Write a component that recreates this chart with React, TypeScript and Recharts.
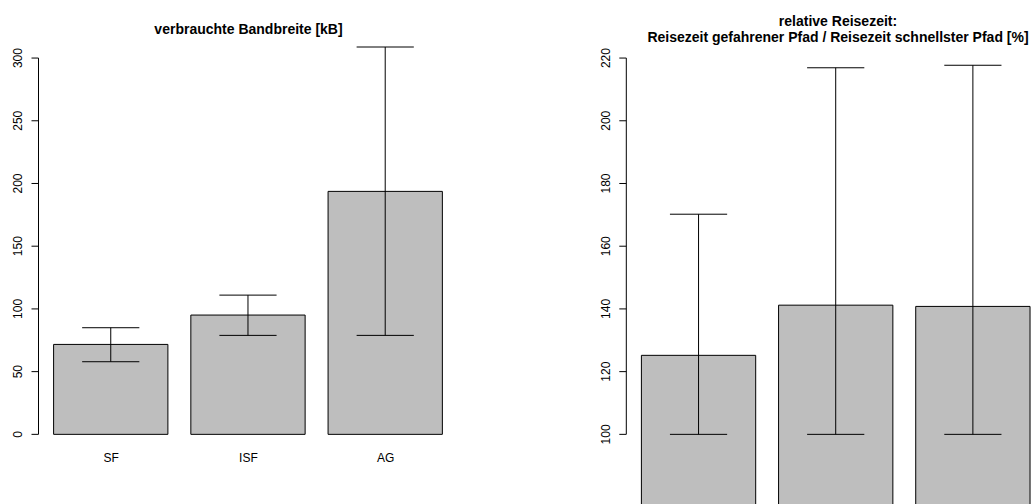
import { BarChart, Bar, XAxis, YAxis, ErrorBar, ReferenceLine } from 'recharts';

// Bandwidth used per strategy (mean with lower/upper whisker)
const strategies = ['SF', 'ISF', 'AG'];
const bandwidthMean = [71.7, 95.1, 193.7];
const bandwidthLow = [57.9, 78.9, 78.9];
const bandwidthHigh = [85.0, 111.0, 308.8];
const bandwidthTicks = [0, 50, 100, 150, 200, 250, 300];

// Relative travel time of driven path vs fastest path, in percent
const travelMean = [125.2, 141.2, 140.8];
const travelLow = [100, 100, 100];
const travelHigh = [170.2, 216.9, 217.7];
const travelTicks = [100, 120, 140, 160, 180, 200, 220];

const FONT = '"Liberation Sans", Arial, Helvetica, sans-serif';
const BAR_FILL = '#bebebe';

const toRows = (mean: number[], low: number[], high: number[]) =>
  strategies.map((name, i) => ({
    name,
    value: mean[i],
    err: [mean[i] - low[i], high[i] - mean[i]],
  }));

const bandwidthData = toRows(bandwidthMean, bandwidthLow, bandwidthHigh);
const travelData = toRows(travelMean, travelLow, travelHigh);

// rotated tick labels, reading bottom to top like base R graphics
const YTick = (props: any) => {
  const { x, y, payload } = props;
  return (
    <text
      x={x}
      y={y}
      transform={`rotate(-90, ${x}, ${y})`}
      textAnchor="middle"
      fontFamily={FONT}
      fontSize={12}
      fill="#000"
    >
      {payload.value}
    </text>
  );
};

const XTick = (props: any) => {
  const { x, y, payload } = props;
  return (
    <text x={x} y={y} textAnchor="middle" fontFamily={FONT} fontSize={12} fill="#000">
      {payload.value}
    </text>
  );
};

export default function App() {
  return (
    <div
      style={{
        position: 'absolute',
        left: 0,
        top: 0,
        width: 1032,
        height: 504,
        overflow: 'hidden',
        background: '#fff',
        fontFamily: FONT,
      }}
    >
      {/* left panel: bandwidth */}
      <div style={{ position: 'absolute', left: 0, top: 0 }}>
        <BarChart
          width={516}
          height={504}
          data={bandwidthData}
          margin={{ top: 43, right: 57.6, bottom: 24.6, left: 0 }}
          barSize={114.3}
        >
          <XAxis
            dataKey="name"
            axisLine={false}
            tickLine={false}
            tickSize={0}
            tickMargin={12.2}
            height={30}
            padding={{ left: 4.1, right: 4.1 }}
            tick={<XTick />}
            interval={0}
          />
          <XAxis xAxisId="edge" type="number" domain={[0, 1]} allowDataOverflow hide />
          <YAxis
            type="number"
            domain={[-12, 312]}
            ticks={bandwidthTicks}
            width={38.5}
            axisLine={false}
            tickLine={{ stroke: '#000' }}
            tickSize={7}
            tickMargin={9.7}
            tick={<YTick />}
            interval={0}
          />
          <ReferenceLine
            xAxisId="edge"
            segment={[
              { x: 0, y: bandwidthTicks[0] },
              { x: 0, y: bandwidthTicks[bandwidthTicks.length - 1] },
            ]}
            stroke="#000"
            strokeWidth={1}
          />
          <Bar dataKey="value" fill={BAR_FILL} stroke="#000" strokeWidth={1} isAnimationActive={false}>
            <ErrorBar dataKey="err" width={28.6} stroke="#000" strokeWidth={1} direction="y" isAnimationActive={false} />
          </Bar>
        </BarChart>
      </div>

      {/* right panel: relative travel time, bars run past the bottom edge */}
      <div style={{ position: 'absolute', left: 516, top: 0 }}>
        <BarChart
          width={540}
          height={540}
          data={travelData}
          margin={{ top: 43, right: 10, bottom: 10, left: 0 }}
          barSize={114.3}
        >
          <XAxis dataKey="name" hide padding={{ left: 4.1, right: 4.1 }} />
          <XAxis xAxisId="edge" type="number" domain={[0, 1]} allowDataOverflow hide />
          <YAxis
            type="number"
            domain={[69.5, 224.8]}
            ticks={travelTicks}
            width={110.3}
            axisLine={false}
            tickLine={{ stroke: '#000' }}
            tickSize={7}
            tickMargin={9.7}
            tick={<YTick />}
            interval={0}
          />
          <ReferenceLine
            xAxisId="edge"
            segment={[
              { x: 0, y: travelTicks[0] },
              { x: 0, y: travelTicks[travelTicks.length - 1] },
            ]}
            stroke="#000"
            strokeWidth={1}
          />
          <Bar dataKey="value" fill={BAR_FILL} stroke="#000" strokeWidth={1} isAnimationActive={false}>
            <ErrorBar dataKey="err" width={28.6} stroke="#000" strokeWidth={1} direction="y" isAnimationActive={false} />
          </Bar>
        </BarChart>
      </div>

      {/* panel titles */}
      <svg
        width={1032}
        height={504}
        style={{ position: 'absolute', left: 0, top: 0, pointerEvents: 'none' }}
      >
        <text x={248.5} y={33.5} textAnchor="middle" fontFamily={FONT} fontSize={14} fontWeight="bold" fill="#000">
          verbrauchte Bandbreite [kB]
        </text>
        <text x={838} y={25.7} textAnchor="middle" fontFamily={FONT} fontSize={14} fontWeight="bold" fill="#000">
          relative Reisezeit:
        </text>
        <text x={838} y={42.3} textAnchor="middle" fontFamily={FONT} fontSize={14} fontWeight="bold" fill="#000">
          Reisezeit gefahrener Pfad / Reisezeit schnellster Pfad [%]
        </text>
      </svg>
    </div>
  );
}
